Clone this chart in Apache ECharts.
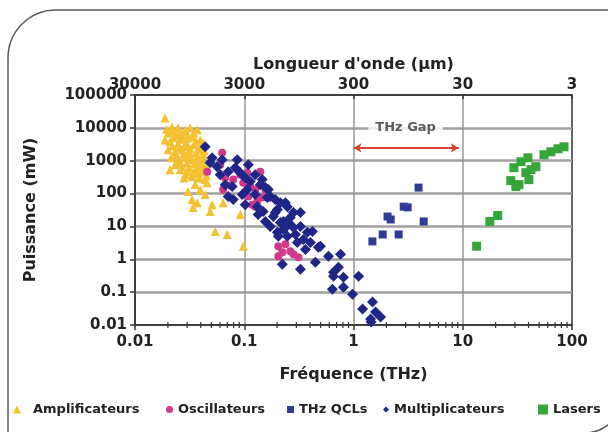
<!DOCTYPE html>
<html>
<head>
<meta charset="utf-8">
<script src="https://cdn.jsdelivr.net/npm/echarts@6/dist/echarts.min.js"></script>
<style>html,body{margin:0;padding:0;background:#fff;}#c{width:608px;height:432px;}</style>
</head>
<body>
<div id="c"></div>
<script>
const xTickLabels = ['0.01','0.1','1','10','100'];
const topTickLabels = ['30000','3000','300','30','3'];
const yTickLabels = ['0.01','0.1','1','10','100','1000','10000','100000'];
const minorTicks = [0.02,0.03,0.04,0.05,0.06,0.07,0.08,0.09,0.2,0.3,0.4,0.5,0.6,0.7,0.8,0.9,2,3,4,5,6,7,8,9,20,30,40,50,60,70,80,90];

const amplificateurs = [
 [0.0188,20000],[0.0218,10700],[0.0248,10000],[0.0288,8700],[0.032,10000],[0.0371,8700],
 [0.0201,7000],[0.0238,6100],[0.0276,5700],[0.0333,5300],[0.0395,4300],
 [0.0188,4300],[0.0209,3800],[0.0248,3300],[0.0294,3500],[0.0348,3050],[0.0412,2650],
 [0.0201,2150],[0.0233,1870],[0.027,2150],[0.0313,1870],[0.0363,1750],[0.0421,1520],
 [0.0214,1230],[0.0248,1070],[0.0288,1230],[0.0333,1070],[0.0386,930],[0.0439,760],
 [0.0233,760],[0.027,660],[0.0313,610],[0.0363,530],[0.0412,460],
 [0.0288,380],[0.0333,330],[0.0386,300],[0.0439,270],[0.0259,530],[0.0209,530],
 [0.0355,190],[0.0395,130],[0.0306,115],[0.0333,66],[0.0371,53],[0.034,38],[0.0458,215],
 [0.0488,28.5],[0.0508,46],[0.0641,53],[0.0542,7],[0.0698,5.7],[0.0919,23],[0.098,2.5],[0.0439,93],
 [0.0195,9000],[0.0225,8000],[0.026,7500],[0.03,6500],[0.0345,7000],[0.0225,5000],[0.026,4500],
 [0.03,4800],[0.036,4000],[0.042,3600],[0.022,2800],[0.0255,2500],[0.029,2700],[0.032,2300],
 [0.038,2200],[0.043,2000],[0.024,1500],[0.028,1600],[0.032,1400],[0.037,1300],[0.041,1100],
 [0.026,900],[0.03,850],[0.035,800],[0.039,650],[0.044,600],[0.03,480],[0.034,440],[0.038,400],
 [0.028,300],[0.045,350]
];
const oscillateurs = [
 [0.0458,464],[0.0628,1750],[0.0603,756],[0.0669,305],[0.0793,266],[0.0919,376],[0.1066,433],
 [0.14,464],[0.098,215],[0.1135,163],[0.126,132],[0.0641,132],[0.0744,175],[0.109,81],
 [0.1183,46],[0.1316,57],[0.126,40],[0.156,132],[0.146,76],[0.205,2.5],[0.223,1.63],
 [0.264,1.75],[0.282,1.42],[0.313,1.15],[0.205,1.23],[0.238,2.85]
];
const thzQCLs = [
 [1.49,3.5],[1.85,5.7],[2.59,5.7],[2.05,20],[2.19,16.3],[2.88,40],[3.13,38],[4.39,14.2],[3.94,152]
];
const multiplicateurs = [
 [0.0439,2660],[0.0488,869],[0.0508,1230],[0.0565,658],[0.0628,1070],[0.0713,464],[0.0827,614],
 [0.0863,1070],[0.0919,433],[0.1021,305],[0.109,756],[0.1135,231],[0.126,376],[0.14,187],
 [0.156,152],[0.146,266],[0.173,81],[0.166,132],[0.1923,66],[0.214,53],[0.238,53],[0.248,40],
 [0.282,26.5],[0.327,26.5],[0.0793,66],[0.0713,81],[0.0776,163],[0.0959,93],[0.1316,40],
 [0.149,28.5],[0.1846,20],[0.214,13.2],[0.253,13.2],[0.201,6.6],[0.248,5.0],[0.173,10],
 [0.156,14.2],[0.1626,76],[0.201,33],[0.228,14.2],[0.282,9.3],[0.327,10],[0.378,6.6],
 [0.421,7.05],[0.205,5.0],[0.228,8.1],[0.306,3.27],[0.348,4.0],[0.477,2.31],[0.498,2.48],
 [0.223,0.705],[0.327,0.498],[0.448,0.81],[0.59,1.23],[0.76,1.42],[0.656,0.404],[0.728,0.573],
 [0.656,0.305],[0.809,0.285],[0.641,0.123],[0.809,0.142],[0.979,0.087],[1.112,0.305],
 [1.211,0.0305],[1.493,0.05],[1.592,0.0248],[1.77,0.0175],[1.432,0.0152],[1.45,0.0123],
 [0.264,18.7],[0.294,5.7],[0.1923,26.5],[0.126,93],[0.1066,132],[0.238,9.3],[0.363,2.0],
 [0.403,3.27],[0.0603,376],[0.0669,187],[0.1021,46],[0.134,23]
];
const lasers = [
 [13.4,2.5],[17.7,14.2],[20.9,21.5],[27.5,248],[29.4,614],[32.7,187],[37.8,433],[39.5,1230],
 [42.1,534],[46.7,658],[55.4,1520],[64.1,1870],[74.4,2310],[84.5,2660],[40.3,266],[30.6,163],[34.1,933]
];
const gapArrowX = [1, 9.2];
const gapArrowY = 2450;
const gapLabel = [[3.0, 10000]];

const FONT = 'DejaVu Sans';
const dec = v => Math.round(Math.log10(v));

const chart = echarts.init(document.getElementById('c'), null, {renderer: 'canvas'});
const txt = {fontFamily: FONT, fontWeight: 'bold', color: '#222'};

function lg(name, left, w, pad, icon) {
  return {
    left: left, top: 403, padding: 0, itemGap: 0, itemWidth: w, itemHeight: w,
    data: [{name: name, icon: icon}],
    textStyle: Object.assign({}, txt, {fontSize: 13, padding: [0,0,0,pad]}),
    selectedMode: false
  };
}

chart.setOption({
  animation: false,
  backgroundColor: '#ffffff',
  graphic: [{
    type: 'rect', z: -10, silent: true,
    shape: {x: 8, y: 10, width: 616, height: 423, r: [48, 0, 40, 0]},
    style: {fill: '#fff', stroke: '#5a5a5a', lineWidth: 1.5}
  }],
  grid: {left: 135, right: 36, top: 95, bottom: 107, show: true, backgroundColor: '#fff', borderColor: '#333', borderWidth: 1.5},
  legend: [
    lg('Amplificateurs', 13, 8, 7, 'triangle'),
    lg('Oscillateurs', 166, 7, 0, 'circle'),
    lg('THz QCLs', 287, 7, 0, 'rect'),
    lg('Multiplicateurs', 383, 6, 0, 'diamond'),
    lg('Lasers', 538, 10, 0, 'rect')
  ],
  xAxis: [{
    type: 'log', logBase: 10, min: 0.01, max: 100, splitNumber: 4, position: 'bottom',
    name: 'Fréquence (THz)', nameLocation: 'middle', nameGap: 42, nameMoveOverlap: false,
    nameTextStyle: Object.assign({}, txt, {fontSize: 16}),
    axisLine: {show: true, lineStyle: {color: '#333', width: 1.5}},
    axisTick: {show: true, length: 5, lineStyle: {color: '#333', width: 1.5}},
    axisLabel: Object.assign({}, txt, {fontSize: 15, margin: 10, formatter: v => xTickLabels[dec(v) + 2]}),
    splitLine: {show: true, showMinLine: false, showMaxLine: false, lineStyle: {color: '#9a9696', width: 1.5}}
  }, {
    type: 'log', logBase: 10, min: 0.01, max: 100, splitNumber: 4, position: 'top',
    name: "Longueur d'onde (µm)", nameLocation: 'middle', nameGap: 22, nameMoveOverlap: false,
    nameTextStyle: Object.assign({}, txt, {fontSize: 16}),
    axisLine: {show: true, lineStyle: {color: '#333', width: 1.5}},
    axisTick: {show: true, length: 4, inside: true, lineStyle: {color: '#333', width: 1.5}},
    axisLabel: Object.assign({}, txt, {fontSize: 15, margin: 2, formatter: v => topTickLabels[dec(v) + 2]}),
    splitLine: {show: false}
  }],
  yAxis: [{
    type: 'log', logBase: 10, min: 0.01, max: 100000, splitNumber: 7,
    name: 'Puissance (mW)', nameLocation: 'middle', nameGap: 96,
    nameTextStyle: Object.assign({}, txt, {fontSize: 16}),
    axisLine: {show: true, lineStyle: {color: '#333', width: 1.5}},
    axisTick: {show: true, length: 5, lineStyle: {color: '#333', width: 1.5}},
    axisLabel: Object.assign({}, txt, {fontSize: 15, margin: 8, formatter: v => yTickLabels[dec(v) + 2]}),
    splitLine: {show: true, showMinLine: false, showMaxLine: false, lineStyle: {color: '#a39f9f', width: 2.5}}
  }],
  series: [
    {name: 'Amplificateurs', type: 'scatter', data: amplificateurs, symbol: 'triangle', symbolSize: 9,
     itemStyle: {color: '#f4c131', opacity: 1}, z: 2},
    {name: 'Oscillateurs', type: 'scatter', data: oscillateurs, symbol: 'circle', symbolSize: 8,
     itemStyle: {color: '#d1388c', opacity: 1}, z: 3},
    {name: 'THz QCLs', type: 'scatter', data: thzQCLs, symbol: 'rect', symbolSize: 8,
     itemStyle: {color: '#2e3c98', opacity: 1}, z: 3},
    {name: 'Multiplicateurs', type: 'scatter', data: multiplicateurs, symbol: 'diamond', symbolSize: 11,
     itemStyle: {color: '#1f2688', opacity: 1}, z: 4},
    {name: 'Lasers', type: 'scatter', data: lasers, symbol: 'rect', symbolSize: 9,
     itemStyle: {color: '#36a53a', opacity: 1}, z: 3},
    {name: '_minor', type: 'scatter', silent: true, clip: false, z: 6,
     data: minorTicks.map(v => [v, 0.01]), symbol: 'rect', symbolSize: [1.2, 6],
     itemStyle: {color: '#333', opacity: 1}},
    {name: '_gap', type: 'line', data: [], silent: true,
     markLine: {silent: true, symbol: ['arrow', 'arrow'], symbolSize: [7, 8],
       lineStyle: {color: '#d6402c', width: 2, type: 'solid'}, label: {show: false},
       data: [[{coord: [gapArrowX[0], gapArrowY]}, {coord: [gapArrowX[1], gapArrowY]}]]}},
    {name: '_gaplabel', type: 'scatter', silent: true, data: gapLabel, symbolSize: 0, z: 7,
     label: {show: true, position: 'inside', formatter: 'THz Gap', backgroundColor: '#fff',
       padding: [2, 7], fontFamily: FONT, fontWeight: 'bold', fontSize: 13, color: '#333'}}
  ]
});
</script>
</body>
</html>
